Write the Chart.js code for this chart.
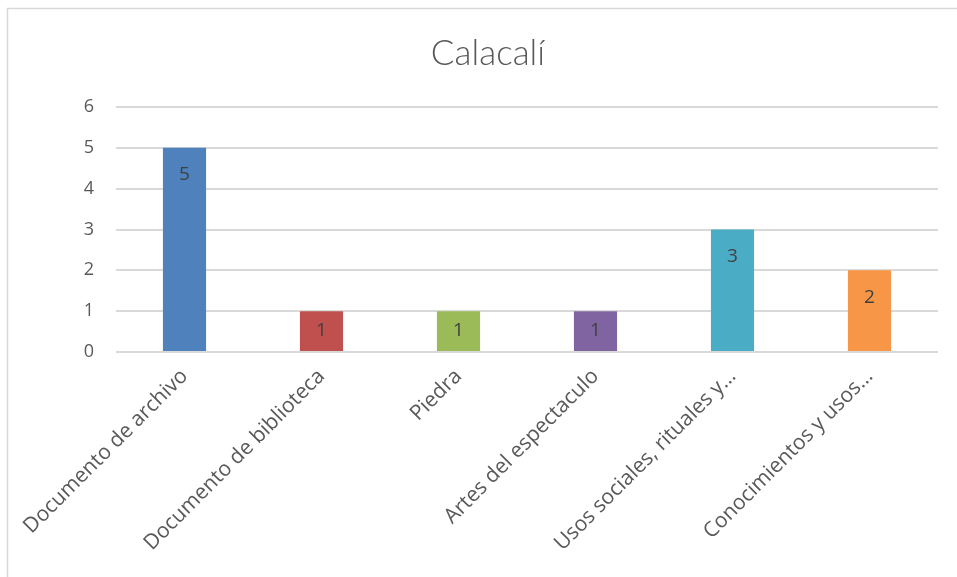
<!DOCTYPE html>
<html>
<head>
<meta charset="utf-8">
<script src="https://cdn.jsdelivr.net/npm/chart.js@4/dist/chart.umd.min.js"></script>
<style>
  html, body { margin: 0; padding: 0; background: #ffffff; }
  #wrap { position: relative; width: 957px; height: 577px; }
</style>
</head>
<body>
<div id="wrap"><canvas id="c" width="957" height="577"></canvas></div>
<script>
// Heritage records registered for Calacalí, by category
const categories = [
  'Documento de archivo',
  'Documento de biblioteca',
  'Piedra',
  'Artes del espectaculo',
  'Usos sociales, rituales y…',
  'Conocimientos y usos…'
];
const counts = [5, 1, 1, 1, 3, 2];
const yTicks = [0, 1, 2, 3, 4, 5, 6];
const barColors = ['#4F81BD', '#C0504D', '#9BBB59', '#8064A2', '#4BACC6', '#F79646'];

// Thin grey frame around the whole chart
const framePlugin = {
  id: 'frame',
  beforeDraw(chart) {
    const ctx = chart.ctx;
    ctx.save();
    ctx.strokeStyle = '#d9d9d9';
    ctx.lineWidth = 1.5;
    ctx.strokeRect(7.5, 8.5, chart.width + 20, chart.height + 20);
    ctx.restore();
  }
};

// Value labels just inside the top of each bar
const valueLabels = {
  id: 'valueLabels',
  afterDatasetsDraw(chart) {
    const ctx = chart.ctx;
    const meta = chart.getDatasetMeta(0);
    ctx.save();
    ctx.font = '19px "Open Sans", sans-serif';
    ctx.fillStyle = '#404040';
    ctx.textAlign = 'center';
    ctx.textBaseline = 'middle';
    meta.data.forEach((bar, i) => {
      const top = bar.y, bottom = bar.base;
      const y = Math.min(top + 27, (top + bottom) / 2);
      ctx.fillText(String(counts[i]), bar.x, y);
    });
    ctx.restore();
  }
};

new Chart(document.getElementById('c'), {
  type: 'bar',
  data: {
    labels: categories,
    datasets: [{
      data: counts,
      backgroundColor: barColors,
      borderWidth: 0,
      categoryPercentage: 1,
      barPercentage: 0.315
    }]
  },
  options: {
    responsive: false,
    animation: false,
    layout: { padding: { left: 38, right: 19, top: 0, bottom: 0 } },
    plugins: {
      legend: { display: false },
      tooltip: { enabled: false },
      title: {
        display: true,
        text: 'Calacalí',
        color: '#595959',
        font: { family: 'Lato, "Open Sans", sans-serif', size: 35, weight: 300 },
        padding: { top: 33, bottom: 32 }
      }
    },
    scales: {
      x: {
        grid: { display: false, drawTicks: false },
        border: { display: false },
        ticks: {
          color: '#595959',
          font: { family: '"Open Sans", sans-serif', size: 21 },
          minRotation: 45,
          maxRotation: 45,
          autoSkip: false,
          padding: 12
        },
        afterFit(scale) { scale.height = 225; }
      },
      y: {
        min: 0,
        max: 6,
        afterBuildTicks(scale) { scale.ticks = yTicks.map(v => ({ value: v })); },
        grid: { color: '#d9d9d9', lineWidth: 2, drawTicks: false },
        border: { display: false },
        ticks: {
          color: '#595959',
          font: { family: '"Open Sans", sans-serif', size: 18 },
          padding: 22
        },
        afterFit(scale) { scale.width = 78; }
      }
    }
  },
  plugins: [framePlugin, valueLabels]
});
</script>
</body>
</html>
